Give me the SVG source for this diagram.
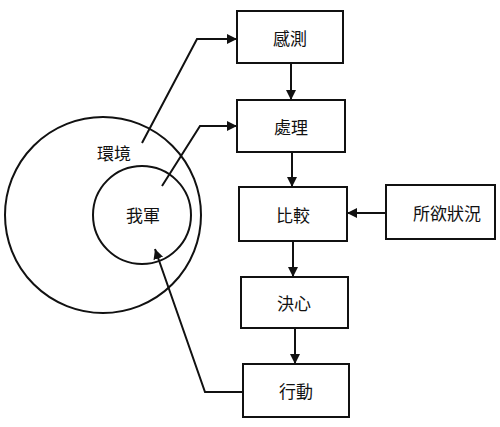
<svg xmlns="http://www.w3.org/2000/svg" width="500" height="427" viewBox="0 0 500 427">
<style>
.box{fill:#fff;stroke:#111;stroke-width:2}
.ring{fill:none;stroke:#111;stroke-width:2}
.t{font-family:"Noto Sans CJK TC","Noto Sans CJK SC",sans-serif;font-size:17px;fill:#111;text-anchor:middle;dominant-baseline:central}
.c{fill:none;stroke:#111;stroke-width:2}
</style>
<defs>
<marker id="ah" viewBox="0 0 10 10" refX="10" refY="5" markerWidth="10" markerHeight="10" markerUnits="userSpaceOnUse" orient="auto">
<path d="M0,0 L10,5 L0,10 z" fill="#111"/>
</marker>
</defs>
<rect width="500" height="427" fill="#fff"/>
<g id="env">
<circle class="ring" cx="103" cy="215" r="98"/>
<text class="t" x="114" y="152">環境</text>
</g>
<g id="self">
<circle class="ring" cx="142" cy="215" r="49"/>
<text class="t" x="143" y="214">我軍</text>
</g>
<g id="sense"><rect class="box" x="237" y="11" width="106" height="52"/><text class="t" x="290" y="37">感測</text></g>
<g id="process"><rect class="box" x="237" y="100" width="108" height="52"/><text class="t" x="291" y="126">處理</text></g>
<g id="compare"><rect class="box" x="239" y="187" width="108" height="54"/><text class="t" x="293" y="214">比較</text></g>
<g id="desired"><rect class="box" x="386" y="185" width="109" height="54"/><text class="t" x="447" y="212">所欲狀況</text></g>
<g id="decide"><rect class="box" x="241" y="277" width="107" height="51"/><text class="t" x="294" y="302">決心</text></g>
<g id="act"><rect class="box" x="243" y="364" width="106" height="53"/><text class="t" x="296" y="390">行動</text></g>
<g id="connectors">
<path class="c" d="M291,63 L291,100" marker-end="url(#ah)"/>
<path class="c" d="M292,152 L292,187" marker-end="url(#ah)"/>
<path class="c" d="M293,241 L293,277" marker-end="url(#ah)"/>
<path class="c" d="M295,328 L295,364" marker-end="url(#ah)"/>
<path class="c" d="M386,213 L347,213" marker-end="url(#ah)"/>
<path class="c" d="M142,143 L197,39 L237,39" marker-end="url(#ah)"/>
<path class="c" d="M162,186 L200,126 L237,126" marker-end="url(#ah)"/>
<path class="c" d="M243,392 L205,392 L155,249" marker-end="url(#ah)"/>
</g>
</svg>
